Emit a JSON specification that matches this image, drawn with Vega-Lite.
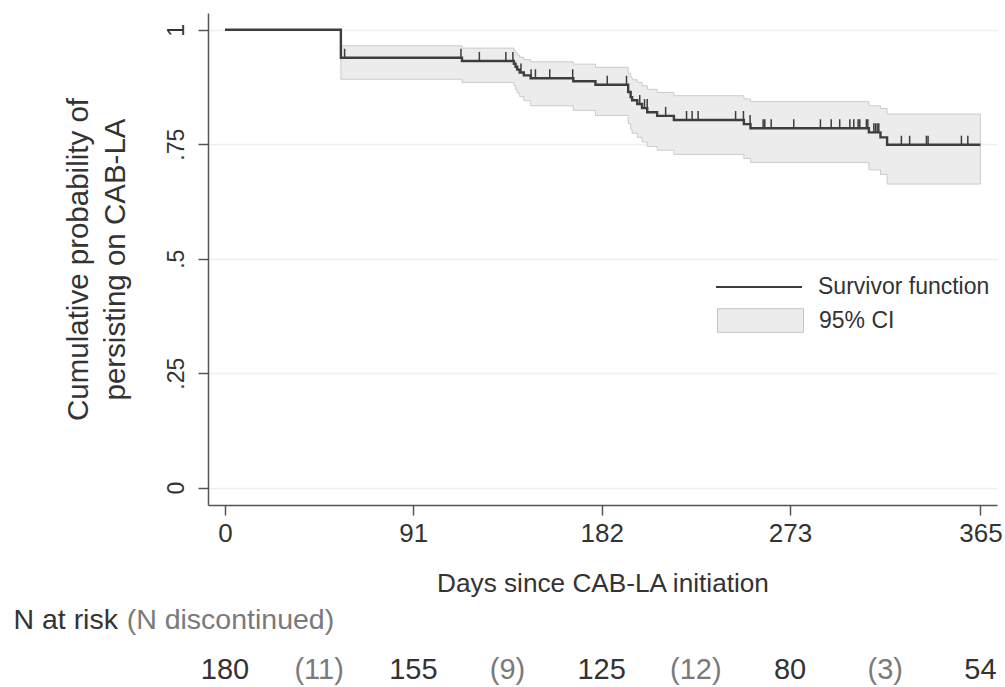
{
  "$schema": "https://vega.github.io/schema/vega-lite/v6.json",
  "background": "white",
  "padding": {"left": 13, "top": 13, "right": 0, "bottom": 0},
  "spacing": 7,
  "datasets": {
    "km": [
      {"day": 0, "surv": 1},
      {"day": 56, "surv": 0.9389},
      {"day": 114.5, "surv": 0.932},
      {"day": 139.6, "surv": 0.9257},
      {"day": 140.4, "surv": 0.9194},
      {"day": 141.2, "surv": 0.9131},
      {"day": 142.4, "surv": 0.9068},
      {"day": 144.4, "surv": 0.9005},
      {"day": 147.7, "surv": 0.8942},
      {"day": 168.3, "surv": 0.8875},
      {"day": 179, "surv": 0.88},
      {"day": 194.8, "surv": 0.864},
      {"day": 196, "surv": 0.853},
      {"day": 196.7, "surv": 0.846},
      {"day": 199.2, "surv": 0.838},
      {"day": 201.5, "surv": 0.829},
      {"day": 204, "surv": 0.82},
      {"day": 208.8, "surv": 0.812},
      {"day": 216.9, "surv": 0.803},
      {"day": 250.7, "surv": 0.794},
      {"day": 253.9, "surv": 0.785},
      {"day": 311.1, "surv": 0.776},
      {"day": 316.7, "surv": 0.765},
      {"day": 319.9, "surv": 0.749},
      {"day": 365, "surv": 0.749}
    ],
    "ci": [
      {"day": 56, "lo": 0.892, "hi": 0.965},
      {"day": 114.5, "lo": 0.885, "hi": 0.96},
      {"day": 139.6, "lo": 0.878, "hi": 0.955},
      {"day": 140.4, "lo": 0.87, "hi": 0.95},
      {"day": 141.2, "lo": 0.862, "hi": 0.945},
      {"day": 142.4, "lo": 0.854, "hi": 0.94},
      {"day": 144.4, "lo": 0.845, "hi": 0.935},
      {"day": 147.7, "lo": 0.834, "hi": 0.93},
      {"day": 168.3, "lo": 0.824, "hi": 0.925},
      {"day": 179, "lo": 0.813, "hi": 0.918},
      {"day": 194.8, "lo": 0.795, "hi": 0.905},
      {"day": 196, "lo": 0.783, "hi": 0.897},
      {"day": 196.7, "lo": 0.774, "hi": 0.891},
      {"day": 199.2, "lo": 0.765, "hi": 0.885},
      {"day": 201.5, "lo": 0.755, "hi": 0.878},
      {"day": 204, "lo": 0.745, "hi": 0.87},
      {"day": 208.8, "lo": 0.737, "hi": 0.863},
      {"day": 216.9, "lo": 0.728, "hi": 0.856},
      {"day": 250.7, "lo": 0.719, "hi": 0.849},
      {"day": 253.9, "lo": 0.7105, "hi": 0.843},
      {"day": 311.1, "lo": 0.694, "hi": 0.834},
      {"day": 316.7, "lo": 0.684, "hi": 0.828},
      {"day": 319.9, "lo": 0.663, "hi": 0.816},
      {"day": 365, "lo": 0.663, "hi": 0.816}
    ],
    "cens": [
      {"day": 57.8, "surv": 0.9389},
      {"day": 114.0, "surv": 0.9389},
      {"day": 122.9, "surv": 0.932},
      {"day": 135.7, "surv": 0.932},
      {"day": 139.1, "surv": 0.932},
      {"day": 143.0, "surv": 0.9068},
      {"day": 147.9, "surv": 0.8942},
      {"day": 150.0, "surv": 0.8942},
      {"day": 156.9, "surv": 0.8942},
      {"day": 168.0, "surv": 0.8942},
      {"day": 184.7, "surv": 0.88},
      {"day": 194.0, "surv": 0.88},
      {"day": 200.4, "surv": 0.838},
      {"day": 202.7, "surv": 0.829},
      {"day": 204.0, "surv": 0.829},
      {"day": 212.9, "surv": 0.812},
      {"day": 223.0, "surv": 0.803},
      {"day": 225.7, "surv": 0.803},
      {"day": 228.6, "surv": 0.803},
      {"day": 246.7, "surv": 0.803},
      {"day": 250.5, "surv": 0.803},
      {"day": 253.7, "surv": 0.794},
      {"day": 260.0, "surv": 0.785},
      {"day": 260.8, "surv": 0.785},
      {"day": 263.9, "surv": 0.785},
      {"day": 274.8, "surv": 0.785},
      {"day": 287.7, "surv": 0.785},
      {"day": 292.9, "surv": 0.785},
      {"day": 297.0, "surv": 0.785},
      {"day": 301.9, "surv": 0.785},
      {"day": 303.8, "surv": 0.785},
      {"day": 305.9, "surv": 0.785},
      {"day": 306.7, "surv": 0.785},
      {"day": 309.9, "surv": 0.785},
      {"day": 310.6, "surv": 0.785},
      {"day": 313.5, "surv": 0.776},
      {"day": 314.3, "surv": 0.776},
      {"day": 315.1, "surv": 0.776},
      {"day": 315.9, "surv": 0.776},
      {"day": 326.8, "surv": 0.749},
      {"day": 330.8, "surv": 0.749},
      {"day": 338.9, "surv": 0.749},
      {"day": 339.7, "surv": 0.749},
      {"day": 355.8, "surv": 0.749},
      {"day": 358.9, "surv": 0.749}
    ],
    "risk": [
      {"day": 0, "label": "180", "kind": "n"},
      {"day": 45.5, "label": "(11)", "kind": "d"},
      {"day": 91, "label": "155", "kind": "n"},
      {"day": 136.5, "label": "(9)", "kind": "d"},
      {"day": 182, "label": "125", "kind": "n"},
      {"day": 227.5, "label": "(12)", "kind": "d"},
      {"day": 273, "label": "80", "kind": "n"},
      {"day": 319, "label": "(3)", "kind": "d"},
      {"day": 365, "label": "54", "kind": "n"}
    ]
  },
  "vconcat": [
    {
      "width": 789,
      "height": 492,
      "layer": [
        {
          "data": {"name": "ci"},
          "mark": {"type": "area", "interpolate": "step-after", "stroke": "#cbcbcb", "strokeWidth": 1, "opacity": 1, "fillOpacity": 1},
          "encoding": {
            "x": {"field": "day", "type": "quantitative", "title": "Days since CAB-LA initiation",
                  "scale": {"domain": [-8.2, 373], "nice": false, "zero": false},
                  "axis": {"values": [0, 91, 182, 273, 365]}},
            "y": {"field": "lo", "type": "quantitative", "title": ["Cumulative probability of", "persisting on CAB-LA"],
                  "scale": {"domain": [-0.038, 1.0367], "nice": false, "zero": false},
                  "axis": {"values": [0, 0.25, 0.5, 0.75, 1], "format": ".2~f", "labelExpr": "replace(datum.label, '0.', '.')"}},
            "y2": {"field": "hi"},
            "fill": {"datum": "95% CI", "scale": {"range": ["#ececec"]},
                     "legend": {"title": null, "orient": "none", "legendX": 509, "legendY": 264,
                                "symbolType": "M-1,-0.275H1V0.275H-1Z", "symbolSize": 7396,
                                "symbolStrokeColor": "#c4c4c4", "symbolStrokeWidth": 1, "symbolOpacity": 1, "labelLimit": 0}}
          }
        },
        {
          "data": {"name": "km"},
          "mark": {"type": "line", "interpolate": "step-after", "strokeWidth": 2.4},
          "encoding": {
            "x": {"field": "day", "type": "quantitative", "title": "Days since CAB-LA initiation",
                  "axis": {"values": [0, 91, 182, 273, 365]}},
            "y": {"field": "surv", "type": "quantitative", "title": ["Cumulative probability of", "persisting on CAB-LA"],
                  "axis": {"values": [0, 0.25, 0.5, 0.75, 1], "format": ".2~f", "labelExpr": "replace(datum.label, '0.', '.')"}},
            "stroke": {"datum": "Survivor function", "scale": {"range": ["#3d3d3d"]},
                       "legend": {"title": null, "orient": "none", "legendX": 507, "legendY": 230,
                                  "symbolType": "M-1,0H1", "symbolSize": 7396, "symbolStrokeWidth": 2, "labelLimit": 0}}
          }
        },
        {
          "data": {"name": "cens"},
          "mark": {"type": "point", "shape": "M0,0V-2", "size": 81, "filled": false, "stroke": "#3d3d3d", "strokeWidth": 1.5, "opacity": 1},
          "encoding": {
            "x": {"field": "day", "type": "quantitative", "title": "Days since CAB-LA initiation",
                  "axis": {"values": [0, 91, 182, 273, 365]}},
            "y": {"field": "surv", "type": "quantitative", "title": ["Cumulative probability of", "persisting on CAB-LA"],
                  "axis": {"values": [0, 0.25, 0.5, 0.75, 1], "format": ".2~f", "labelExpr": "replace(datum.label, '0.', '.')"}}
          }
        }
      ]
    },
    {
      "width": 789,
      "height": 100,
      "layer": [
        {
          "data": {"name": "risk"},
          "mark": {"type": "text", "fontSize": 29, "baseline": "alphabetic", "align": "center", "font": "Liberation Sans"},
          "encoding": {
            "x": {"field": "day", "type": "quantitative", "scale": {"domain": [-8.2, 373], "nice": false, "zero": false}, "axis": null},
            "y": {"datum": "counts", "type": "nominal", "scale": {"type": "point", "domain": ["header", "counts"], "padding": 0.5}, "axis": null},
            "text": {"field": "label"},
            "color": {"field": "kind", "type": "nominal", "scale": {"domain": ["n", "d"], "range": ["#333333", "#7a7a7a"]}, "legend": null}
          }
        },
        {
          "data": {"values": [{}]},
          "mark": {"type": "text", "fontSize": 28.5, "baseline": "alphabetic", "align": "left", "color": "#333333", "font": "Liberation Sans"},
          "encoding": {
            "x": {"datum": -102.2, "type": "quantitative"},
            "y": {"datum": "header", "type": "nominal"},
            "text": {"value": "N at risk"}
          }
        },
        {
          "data": {"values": [{}]},
          "mark": {"type": "text", "fontSize": 28.5, "baseline": "alphabetic", "align": "left", "color": "#7a7a7a", "font": "Liberation Sans"},
          "encoding": {
            "x": {"datum": -47.5, "type": "quantitative"},
            "y": {"datum": "header", "type": "nominal"},
            "text": {"value": "(N discontinued)"}
          }
        }
      ]
    }
  ],
  "config": {
    "font": "Liberation Sans",
    "view": {"stroke": null},
    "axis": {
      "domainColor": "#555555", "domainWidth": 1.5,
      "tickColor": "#555555", "tickWidth": 1.5, "tickSize": 10,
      "labelColor": "#333333", "titleColor": "#333333",
      "labelFont": "Liberation Sans", "titleFont": "Liberation Sans",
      "titleFontWeight": "normal",
      "gridColor": "#efefef", "gridWidth": 1.5
    },
    "axisX": {"grid": false, "labelFontSize": 26, "labelPadding": 5, "titleFontSize": 26.2, "titlePadding": 24, "labelFlush": false, "labelOverlap": false},
    "axisY": {"grid": true, "labelFontSize": 23, "labelAngle": -90, "labelAlign": "center", "labelBaseline": "alphabetic", "labelPadding": 15, "titleFontSize": 29.5, "titleLineHeight": 37, "titlePadding": 35, "labelOverlap": false},
    "legend": {"labelFont": "Liberation Sans", "labelFontSize": 23, "labelColor": "#333333", "padding": 0, "labelOffset": 15, "labelLimit": 0}
  }
}
